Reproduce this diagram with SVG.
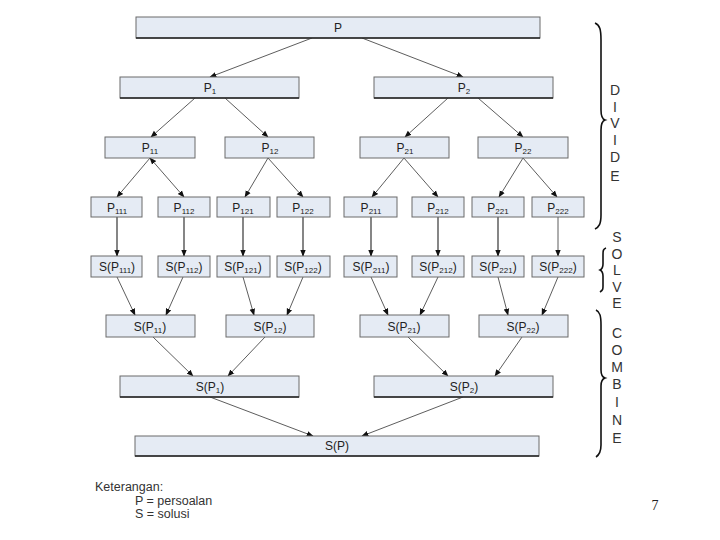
<svg xmlns="http://www.w3.org/2000/svg" width="720" height="540" viewBox="0 0 720 540">
<style>
.box{fill:#e5ebf4;stroke:#6a6a6a;stroke-width:1}
.bot{stroke:#222;stroke-width:1.3}
.lbl{font-family:"Liberation Sans",Arial,sans-serif;font-size:12px;fill:#222;text-anchor:middle}
.sub{font-size:8px}
.cn{stroke:#333;stroke-width:0.8;fill:none;marker-end:url(#ah)}
.v{stroke:#222;stroke-width:1.1}
.vert{font-family:"Liberation Sans",Arial,sans-serif;font-size:14px;fill:#333;text-anchor:middle}
.brace{fill:none;stroke:#111;stroke-width:1.6}
.leg{font-family:"Liberation Sans",Arial,sans-serif;font-size:12.5px;fill:#333}
</style>
<defs>
<marker id="ah" viewBox="0 0 10 10" refX="9" refY="5" markerWidth="7" markerHeight="7" orient="auto" markerUnits="userSpaceOnUse"><path d="M0,1 L10,5 L0,9 z" fill="#111"/></marker>
<marker id="as" viewBox="0 0 10 10" refX="1" refY="5" markerWidth="7" markerHeight="7" orient="auto" markerUnits="userSpaceOnUse"><path d="M10,1 L0,5 L10,9 z" fill="#111"/></marker>
</defs>
<rect width="720" height="540" fill="#fff"/>

<g id="connectors">
<line class="cn" x1="312" y1="38" x2="210" y2="77"/>
<line class="cn" x1="362" y1="38" x2="463" y2="77"/>
<line class="cn" x1="195" y1="98" x2="151" y2="137"/>
<line class="cn" x1="225" y1="98" x2="268" y2="137"/>
<line class="cn" x1="448" y1="98" x2="405" y2="137"/>
<line class="cn" x1="478" y1="98" x2="523" y2="137"/>
<line class="cn" x1="150" y1="158" x2="117" y2="197"/>
<line class="cn" x1="150" y1="158" x2="184" y2="197" marker-start="url(#as)"/>
<line class="cn" x1="268" y1="158" x2="245" y2="197"/>
<line class="cn" x1="268" y1="158" x2="303" y2="197"/>
<line class="cn" x1="404" y1="158" x2="372" y2="197"/>
<line class="cn" x1="404" y1="158" x2="438" y2="197"/>
<line class="cn" x1="523" y1="158" x2="499" y2="197"/>
<line class="cn" x1="523" y1="158" x2="557" y2="197"/>
<line class="cn v" x1="117" y1="217" x2="117" y2="256"/>
<line class="cn v" x1="184" y1="217" x2="184" y2="256"/>
<line class="cn v" x1="243" y1="217" x2="243" y2="256"/>
<line class="cn v" x1="303" y1="217" x2="303" y2="256"/>
<line class="cn v" x1="371" y1="217" x2="371" y2="256"/>
<line class="cn v" x1="438" y1="217" x2="438" y2="256"/>
<line class="cn v" x1="498" y1="217" x2="498" y2="256"/>
<line class="cn" x1="558" y1="217" x2="558" y2="256"/>
<line class="cn" x1="117" y1="277" x2="135" y2="315"/>
<line class="cn" x1="183" y1="277" x2="166" y2="315"/>
<line class="cn" x1="243" y1="277" x2="254" y2="315"/>
<line class="cn" x1="303" y1="277" x2="287" y2="315"/>
<line class="cn" x1="371" y1="277" x2="388" y2="315"/>
<line class="cn" x1="438" y1="277" x2="420" y2="315"/>
<line class="cn" x1="498" y1="277" x2="508" y2="315"/>
<line class="cn" x1="558" y1="277" x2="542" y2="315"/>
<line class="cn" x1="153" y1="337" x2="193" y2="376"/>
<line class="cn" x1="265" y1="337" x2="228" y2="376"/>
<line class="cn" x1="408" y1="337" x2="448" y2="376"/>
<line class="cn" x1="522" y1="337" x2="495" y2="376"/>
<line class="cn" x1="210" y1="397" x2="313" y2="436"/>
<line class="cn" x1="463" y1="397" x2="362" y2="436"/>
</g>

<g id="P"><rect class="box" x="136" y="17" width="404" height="21"/><line class="bot" x1="136" y1="38" x2="540" y2="38"/><text class="lbl" x="338" y="32">P</text></g>
<g id="P1"><rect class="box" x="120" y="77" width="179" height="21"/><line class="bot" x1="120" y1="98" x2="299" y2="98"/><text class="lbl" x="210" y="92">P<tspan class="sub" dy="2">1</tspan></text></g>
<g id="P2"><rect class="box" x="374" y="77" width="179" height="21"/><line class="bot" x1="374" y1="98" x2="553" y2="98"/><text class="lbl" x="464" y="92">P<tspan class="sub" dy="2">2</tspan></text></g>

<g id="P11"><rect class="box" x="105" y="137" width="90" height="21"/><text class="lbl" x="150" y="152">P<tspan class="sub" dy="2">11</tspan></text></g>
<g id="P12"><rect class="box" x="225" y="137" width="89" height="21"/><text class="lbl" x="270" y="152">P<tspan class="sub" dy="2">12</tspan></text></g>
<g id="P21"><rect class="box" x="360" y="137" width="89" height="21"/><text class="lbl" x="405" y="152">P<tspan class="sub" dy="2">21</tspan></text></g>
<g id="P22"><rect class="box" x="478" y="137" width="90" height="21"/><text class="lbl" x="523" y="152">P<tspan class="sub" dy="2">22</tspan></text></g>

<g id="P111"><rect class="box" x="91" y="197" width="51" height="20"/><text class="lbl" x="117" y="212">P<tspan class="sub" dy="2">111</tspan></text></g>
<g id="P112"><rect class="box" x="158" y="197" width="52" height="20"/><text class="lbl" x="184" y="212">P<tspan class="sub" dy="2">112</tspan></text></g>
<g id="P121"><rect class="box" x="217" y="197" width="53" height="20"/><text class="lbl" x="243" y="212">P<tspan class="sub" dy="2">121</tspan></text></g>
<g id="P122"><rect class="box" x="277" y="197" width="53" height="20"/><text class="lbl" x="303" y="212">P<tspan class="sub" dy="2">122</tspan></text></g>
<g id="P211"><rect class="box" x="344" y="197" width="53" height="20"/><text class="lbl" x="371" y="212">P<tspan class="sub" dy="2">211</tspan></text></g>
<g id="P212"><rect class="box" x="412" y="197" width="52" height="20"/><text class="lbl" x="438" y="212">P<tspan class="sub" dy="2">212</tspan></text></g>
<g id="P221"><rect class="box" x="472" y="197" width="52" height="20"/><text class="lbl" x="498" y="212">P<tspan class="sub" dy="2">221</tspan></text></g>
<g id="P222"><rect class="box" x="532" y="197" width="52" height="20"/><text class="lbl" x="558" y="212">P<tspan class="sub" dy="2">222</tspan></text></g>

<g id="SP111"><rect class="box" x="91" y="256" width="51" height="21"/><text class="lbl" x="117" y="271">S(P<tspan class="sub" dy="2">111</tspan><tspan dy="-2">)</tspan></text></g>
<g id="SP112"><rect class="box" x="158" y="256" width="52" height="21"/><text class="lbl" x="184" y="271">S(P<tspan class="sub" dy="2">112</tspan><tspan dy="-2">)</tspan></text></g>
<g id="SP121"><rect class="box" x="217" y="256" width="53" height="21"/><text class="lbl" x="243" y="271">S(P<tspan class="sub" dy="2">121</tspan><tspan dy="-2">)</tspan></text></g>
<g id="SP122"><rect class="box" x="277" y="256" width="53" height="21"/><text class="lbl" x="303" y="271">S(P<tspan class="sub" dy="2">122</tspan><tspan dy="-2">)</tspan></text></g>
<g id="SP211"><rect class="box" x="344" y="256" width="53" height="21"/><text class="lbl" x="371" y="271">S(P<tspan class="sub" dy="2">211</tspan><tspan dy="-2">)</tspan></text></g>
<g id="SP212"><rect class="box" x="412" y="256" width="52" height="21"/><text class="lbl" x="438" y="271">S(P<tspan class="sub" dy="2">212</tspan><tspan dy="-2">)</tspan></text></g>
<g id="SP221"><rect class="box" x="472" y="256" width="52" height="21"/><text class="lbl" x="498" y="271">S(P<tspan class="sub" dy="2">221</tspan><tspan dy="-2">)</tspan></text></g>
<g id="SP222"><rect class="box" x="532" y="256" width="52" height="21"/><text class="lbl" x="558" y="271">S(P<tspan class="sub" dy="2">222</tspan><tspan dy="-2">)</tspan></text></g>

<g id="SP11"><rect class="box" x="106" y="315" width="89" height="22"/><text class="lbl" x="150" y="331">S(P<tspan class="sub" dy="2">11</tspan><tspan dy="-2">)</tspan></text></g>
<g id="SP12"><rect class="box" x="226" y="315" width="88" height="22"/><text class="lbl" x="270" y="331">S(P<tspan class="sub" dy="2">12</tspan><tspan dy="-2">)</tspan></text></g>
<g id="SP21"><rect class="box" x="360" y="315" width="89" height="22"/><text class="lbl" x="404" y="331">S(P<tspan class="sub" dy="2">21</tspan><tspan dy="-2">)</tspan></text></g>
<g id="SP22"><rect class="box" x="479" y="315" width="89" height="22"/><text class="lbl" x="523" y="331">S(P<tspan class="sub" dy="2">22</tspan><tspan dy="-2">)</tspan></text></g>

<g id="SP1"><rect class="box" x="120" y="376" width="179" height="21"/><line class="bot" x1="120" y1="397" x2="299" y2="397"/><text class="lbl" x="210" y="391">S(P<tspan class="sub" dy="2">1</tspan><tspan dy="-2">)</tspan></text></g>
<g id="SP2"><rect class="box" x="374" y="376" width="179" height="21"/><line class="bot" x1="374" y1="397" x2="553" y2="397"/><text class="lbl" x="464" y="391">S(P<tspan class="sub" dy="2">2</tspan><tspan dy="-2">)</tspan></text></g>
<g id="SP"><rect class="box" x="135" y="436" width="404" height="20"/><line class="bot" x1="135" y1="456" x2="539" y2="456"/><text class="lbl" x="337" y="450">S(P)</text></g>

<g id="divide">
<path class="brace" d="M595,23 C600,25 601,30 601,40 L601,110 C601,116 602,119 605,120 C602,121 601,124 601,130 L601,215 C601,224 599,227 595,229"/>
<text class="vert" x="615" y="95">D</text><text class="vert" x="615" y="112">I</text><text class="vert" x="615" y="128">V</text><text class="vert" x="615" y="145">I</text><text class="vert" x="615" y="162">D</text><text class="vert" x="615" y="181">E</text>
</g>
<g id="solve">
<path class="brace" d="M606,248 C603,249 603,251 603,255 L603,264 C603,267 602,269 600,270 C602,271 603,273 603,276 L603,286 C603,289 603,290 600,292"/>
<text class="vert" x="617" y="242">S</text><text class="vert" x="617" y="259">O</text><text class="vert" x="617" y="275">L</text><text class="vert" x="617" y="292">V</text><text class="vert" x="617" y="308">E</text>
</g>
<g id="combine">
<path class="brace" d="M596,310 C600,312 601,316 601,325 L601,370 C601,375 602,377 605,378 C602,379 601,381 601,386 L601,445 C601,452 599,455 596,457"/>
<text class="vert" x="617" y="338">C</text><text class="vert" x="617" y="355">O</text><text class="vert" x="617" y="372">M</text><text class="vert" x="617" y="389">B</text><text class="vert" x="617" y="407">I</text><text class="vert" x="617" y="425">N</text><text class="vert" x="617" y="443">E</text>
</g>

<g id="legend">
<text class="leg" x="95" y="491">Keterangan:</text>
<text class="leg" x="135" y="505">P = persoalan</text>
<text class="leg" x="135" y="518">S = solusi</text>
</g>
<text x="655" y="510" font-family="Liberation Serif,serif" font-size="14" fill="#222" text-anchor="middle">7</text>
</svg>
